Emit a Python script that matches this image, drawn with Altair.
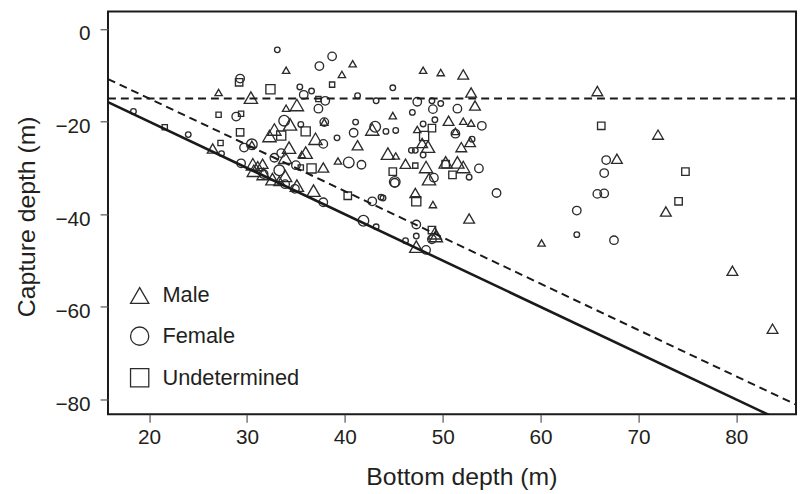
import altair as alt
import pandas as pd

# ---- data ----
male_bottom = [34.0, 39.7, 40.8, 48.0, 49.8, 52.1, 52.9, 27.1, 30.4, 35.1, 34.0, 53.3, 37.9, 34.4, 32.8,
               32.3, 37.0, 44.9, 50.6, 52.1, 52.9, 47.4, 42.8, 51.3, 30.5, 34.3, 26.5, 36.0, 35.6, 33.9,
               41.3, 44.4, 45.2, 47.9, 48.5, 51.9, 52.8, 39.3, 30.6, 31.6, 37.8, 46.2, 48.3, 50.3, 51.5,
               52.1, 48.6, 30.7, 31.7, 32.6, 33.3, 33.9, 35.1, 36.8, 47.2, 49.0, 52.7, 49.2, 49.3, 47.3,
               60.1, 65.8, 72.0, 67.8, 72.8, 79.6, 83.7, 31.1]
male_capture = [-8.9, -9.8, -7.5, -8.9, -9.4, -9.8, -13.7, -13.7, -14.8, -16.4, -17.1, -16.5, -20.1, -20.6, -21.7,
                -23.1, -23.7, -18.7, -19.8, -19.9, -20.3, -21.7, -21.7, -22.1, -24.9, -25.6, -25.8, -26.7, -27.1, -27.8,
                -25.1, -26.9, -27.4, -24.6, -25.4, -25.5, -24.4, -28.5, -29.2, -29.1, -29.9, -29.1, -29.8, -28.8, -28.8,
                -29.8, -32.4, -30.6, -31.3, -32.4, -32.8, -31.7, -33.8, -34.9, -35.4, -37.9, -40.9, -44.1, -44.7, -47.0,
                -46.2, -13.4, -22.8, -28.0, -39.4, -52.2, -64.7, -29.6]
male_class = [1, 1, 1, 1, 1, 2, 2, 1, 3, 3, 1, 2, 1, 3, 3,
              3, 3, 1, 2, 1, 1, 1, 3, 1, 1, 3, 2, 3, 1, 3,
              2, 3, 1, 2, 3, 2, 2, 1, 3, 2, 2, 2, 3, 3, 3,
              3, 3, 3, 3, 3, 2, 3, 3, 3, 2, 1, 2, 3, 3, 3,
              1, 2, 2, 2, 2, 2, 2, 2]

female_bottom = [33.1, 38.7, 37.4, 29.3, 35.4, 35.8, 36.6, 38.0, 37.3, 28.9, 18.4, 33.8, 37.9, 35.5, 39.2,
                 24.0, 30.5, 29.7, 37.8, 27.4, 33.5, 32.8, 29.4, 35.0, 33.3, 40.4, 41.7, 44.9, 41.3, 43.2,
                 47.4, 48.9, 49.8, 46.9, 49.0, 51.5, 41.1, 49.2, 54.0, 48.0, 43.1, 40.9, 44.2, 45.2, 51.3,
                 46.8, 47.2, 48.0, 53.0, 53.7, 45.1, 45.1, 49.1, 52.7, 55.5, 42.8, 43.9, 41.9, 43.2, 47.3,
                 48.9, 46.2, 47.3, 48.3, 63.7, 66.7, 66.5, 65.8, 66.5, 63.7, 67.5, 37.8, 33.9, 43.7, 31.7,
                 34.9]
female_capture = [-4.5, -5.9, -8.0, -10.7, -12.5, -14.2, -13.4, -15.5, -17.2, -18.9, -17.8, -19.8, -20.1, -20.6, -23.5,
                  -22.8, -24.9, -25.6, -24.8, -26.9, -26.8, -27.8, -29.0, -29.4, -30.5, -28.8, -29.3, -12.7, -14.4, -15.5,
                  -15.7, -15.5, -16.1, -18.0, -17.3, -17.2, -20.1, -19.6, -20.9, -20.5, -21.1, -22.4, -22.1, -21.9, -22.6,
                  -26.2, -26.2, -27.2, -23.8, -30.1, -33.0, -33.2, -32.1, -32.0, -35.4, -37.2, -36.5, -41.4, -42.7, -42.2,
                  -45.4, -45.7, -44.7, -47.7, -39.2, -28.3, -31.1, -35.6, -35.5, -44.4, -45.6, -37.4, -33.5, -36.3, -31.3,
                  -34.5]
female_class = [1, 2, 2, 2, 1, 2, 1, 2, 2, 2, 1, 3, 2, 1, 1,
                1, 3, 2, 2, 1, 2, 2, 2, 2, 3, 3, 2, 1, 1, 1,
                2, 1, 1, 1, 2, 2, 1, 1, 2, 1, 3, 2, 1, 1, 2,
                1, 1, 1, 1, 2, 3, 2, 2, 1, 2, 2, 1, 3, 1, 2,
                2, 1, 1, 2, 2, 2, 2, 2, 2, 1, 2, 2, 2, 1, 2,
                2]

undet_bottom = [29.2, 32.4, 38.7, 37.3, 27.1, 29.4, 36.0, 33.5, 29.3, 21.6, 27.3, 35.5, 36.6, 40.3, 48.9,
                48.1, 47.2, 50.3, 44.9, 51.0, 47.3, 48.9, 66.2, 74.8, 74.1]
undet_capture = [-11.5, -13.0, -12.0, -15.1, -18.5, -18.3, -22.1, -23.0, -22.3, -21.2, -24.6, -29.9, -30.1, -36.0, -21.4,
                 -23.1, -29.5, -29.2, -30.8, -31.5, -37.2, -43.4, -20.9, -30.8, -37.2]
undet_class = [2, 3, 1, 1, 1, 1, 3, 3, 2, 1, 1, 1, 3, 2, 2,
               3, 1, 2, 2, 2, 3, 2, 2, 2, 2]

sex_order = ["Male", "Female", "Undetermined"]
shapes = ["triangle-up", "circle", "square"]

# reference lines: capture = bottom (solid), 5 m above it (dashed), fixed -15 m (dashed)
line_bottom = [15.8, 86.1]
line_solid = [-b for b in line_bottom]
line_dashed = [-b + 5 for b in line_bottom]
line_flat = [-15, -15]

X_DOMAIN = [15.8, 86.1]
Y_DOMAIN = [-83.2, 3.8]
FONT = "Liberation Sans"
INK = "#231f20"

male_df = pd.DataFrame({"bottom": male_bottom, "capture": male_capture, "cls": male_class, "sex": "Male"})
female_df = pd.DataFrame({"bottom": female_bottom, "capture": female_capture, "cls": female_class, "sex": "Female"})
undet_df = pd.DataFrame({"bottom": undet_bottom, "capture": undet_capture, "cls": undet_class, "sex": "Undetermined"})
lines_df = pd.DataFrame({"bottom": line_bottom, "solid": line_solid, "dashed": line_dashed, "flat": line_flat})

x_enc = alt.X("bottom:Q", scale=alt.Scale(domain=X_DOMAIN, nice=False, zero=False),
              axis=alt.Axis(values=[20, 30, 40, 50, 60, 70, 80], title="Bottom depth (m)",
                            titleX=357, titleY=71, titleBaseline="alphabetic", titleAlign="center",
                            labelPadding=4, format="d"))
y_enc = alt.Y("capture:Q", scale=alt.Scale(domain=Y_DOMAIN, nice=False, zero=False),
              axis=alt.Axis(values=[0, -20, -40, -60, -80], title="Capture depth (m)",
                            titleX=-74, titleY=207, titleAngle=270, titleBaseline="alphabetic",
                            titleAlign="center", labelPadding=10, labelOffset=5, format="d"))

shape_enc = alt.Shape("sex:N", scale=alt.Scale(domain=sex_order, range=shapes),
                      legend=alt.Legend(title=None, orient="none", legendX=21, legendY=276,
                                        symbolSize=340, symbolStrokeColor="#2b2b2b",
                                        symbolFillColor="transparent", symbolStrokeWidth=1.3,
                                        labelFont=FONT, labelFontSize=22, labelColor=INK,
                                        labelOffset=12, rowPadding=18, padding=0))

def pts(df, rng):
    return alt.Chart(df).mark_point(filled=False, stroke="#2b2b2b", strokeWidth=1.35, opacity=1).encode(
        x=x_enc, y=y_enc, shape=shape_enc,
        size=alt.Size("cls:O", scale=alt.Scale(domain=[1, 2, 3], range=rng), legend=None),
    )

solid = alt.Chart(lines_df).mark_line(color="#1a1a1a", strokeWidth=2.6, clip=True).encode(
    x=x_enc, y=alt.Y("solid:Q", scale=alt.Scale(domain=Y_DOMAIN, nice=False, zero=False)))
dashed = alt.Chart(lines_df).mark_line(color="#1a1a1a", strokeWidth=2, strokeDash=[8, 5], clip=True).encode(
    x=x_enc, y=alt.Y("dashed:Q", scale=alt.Scale(domain=Y_DOMAIN, nice=False, zero=False)))
flat = alt.Chart(lines_df).mark_line(color="#1a1a1a", strokeWidth=2, strokeDash=[8, 5], clip=True).encode(
    x=x_enc, y=alt.Y("flat:Q", scale=alt.Scale(domain=Y_DOMAIN, nice=False, zero=False)))

chart = alt.layer(
    pts(male_df, [55, 180, 340]),
    pts(female_df, [32, 115, 200]),
    pts(undet_df, [28, 85, 140]),
    solid, dashed, flat,
).resolve_scale(size="independent").properties(
    width=695, height=407,
    autosize=alt.AutoSizeParams(type="none"),
    padding={"left": 101, "top": 1, "right": 2, "bottom": 78},
).configure_view(
    stroke="#1a1a1a", strokeWidth=2
).configure_axis(
    domain=False, grid=False, tickSize=8, tickColor="#555555", tickWidth=1.2,
    labelFont=FONT, labelFontSize=21, labelColor=INK,
    titleFont=FONT, titleFontSize=25, titleFontWeight="normal", titleColor=INK,
)

chart.save("out.html", embed_options={"renderer": "svg", "actions": False})
